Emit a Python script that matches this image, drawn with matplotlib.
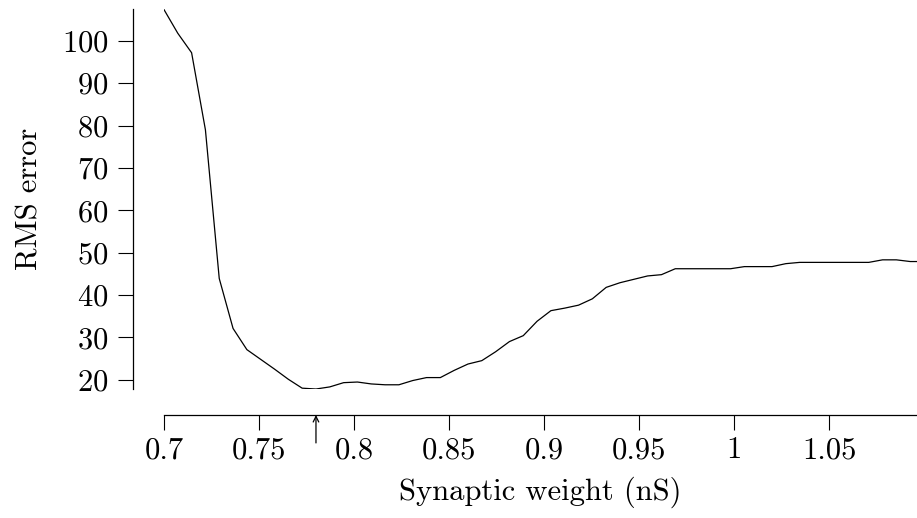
import numpy as np
import matplotlib
matplotlib.use('Agg')
import matplotlib.pyplot as plt
from matplotlib.ticker import FuncFormatter

plt.rcParams['font.family'] = ['cmr10', 'DejaVu Serif']
plt.rcParams['mathtext.fontset'] = 'cm'
plt.rcParams['axes.formatter.use_mathtext'] = True

# synaptic weight sweep (nS)
weights = np.linspace(0.7, 1.1, 56)
# RMS error
rms_error = [107.4, 101.8, 97.2, 79.0, 43.9, 32.1, 27.1, 24.8, 22.5, 20.1,
             18.0, 17.8, 18.3, 19.3, 19.45, 19.0, 18.8, 18.8, 19.8, 20.5,
             20.5, 22.2, 23.7, 24.5, 26.6, 29.0, 30.4, 33.8, 36.3, 36.9,
             37.6, 39.1, 41.8, 42.9, 43.7, 44.5, 44.8, 46.2, 46.2, 46.2,
             46.2, 46.2, 46.7, 46.7, 46.7, 47.4, 47.7, 47.7, 47.7, 47.7,
             47.7, 47.7, 48.3, 48.3, 47.9, 47.9]
best_weight = 0.78

xticks = [0.7, 0.75, 0.8, 0.85, 0.9, 0.95, 1.0, 1.05]
yticks = [20, 30, 40, 50, 60, 70, 80, 90, 100]

fig = plt.figure(figsize=(9.17, 5.18), dpi=100)
ax = fig.add_axes([0.1788, 0.249, 0.8212, 0.733])
ax.plot(weights, rms_error, color='black', lw=0.9)

ax.set_xlim(0.7, 1.0963)
ax.set_ylim(17.8, 107.45)
ax.set_xticks(xticks)
ax.set_yticks(yticks)
ax.xaxis.set_major_formatter(FuncFormatter(lambda v, p: '%g' % v))

for s in ['top', 'right']:
    ax.spines[s].set_visible(False)
ax.spines['left'].set_position(('outward', 22.5))
ax.spines['bottom'].set_position(('outward', 19))
for s in ['left', 'bottom']:
    ax.spines[s].set_linewidth(0.9)
ax.tick_params(axis='both', direction='out', length=10.5, width=0.8,
               labelsize=22, color='black')
ax.tick_params(axis='y', pad=7)
ax.tick_params(axis='x', pad=5)

ax.set_xlabel('Synaptic weight (nS)', fontsize=22, labelpad=9)
ax.set_ylabel('RMS error', fontsize=22, labelpad=13)

# arrow marking the best weight
ax.annotate('', xy=(best_weight, -0.0685), xycoords=('data', 'axes fraction'),
            xytext=(best_weight, -0.142), textcoords=('data', 'axes fraction'),
            arrowprops=dict(arrowstyle='->', color='black', lw=0.9,
                            shrinkA=0, shrinkB=0, mutation_scale=10),
            annotation_clip=False)

fig.savefig('out.png', dpi=100)
